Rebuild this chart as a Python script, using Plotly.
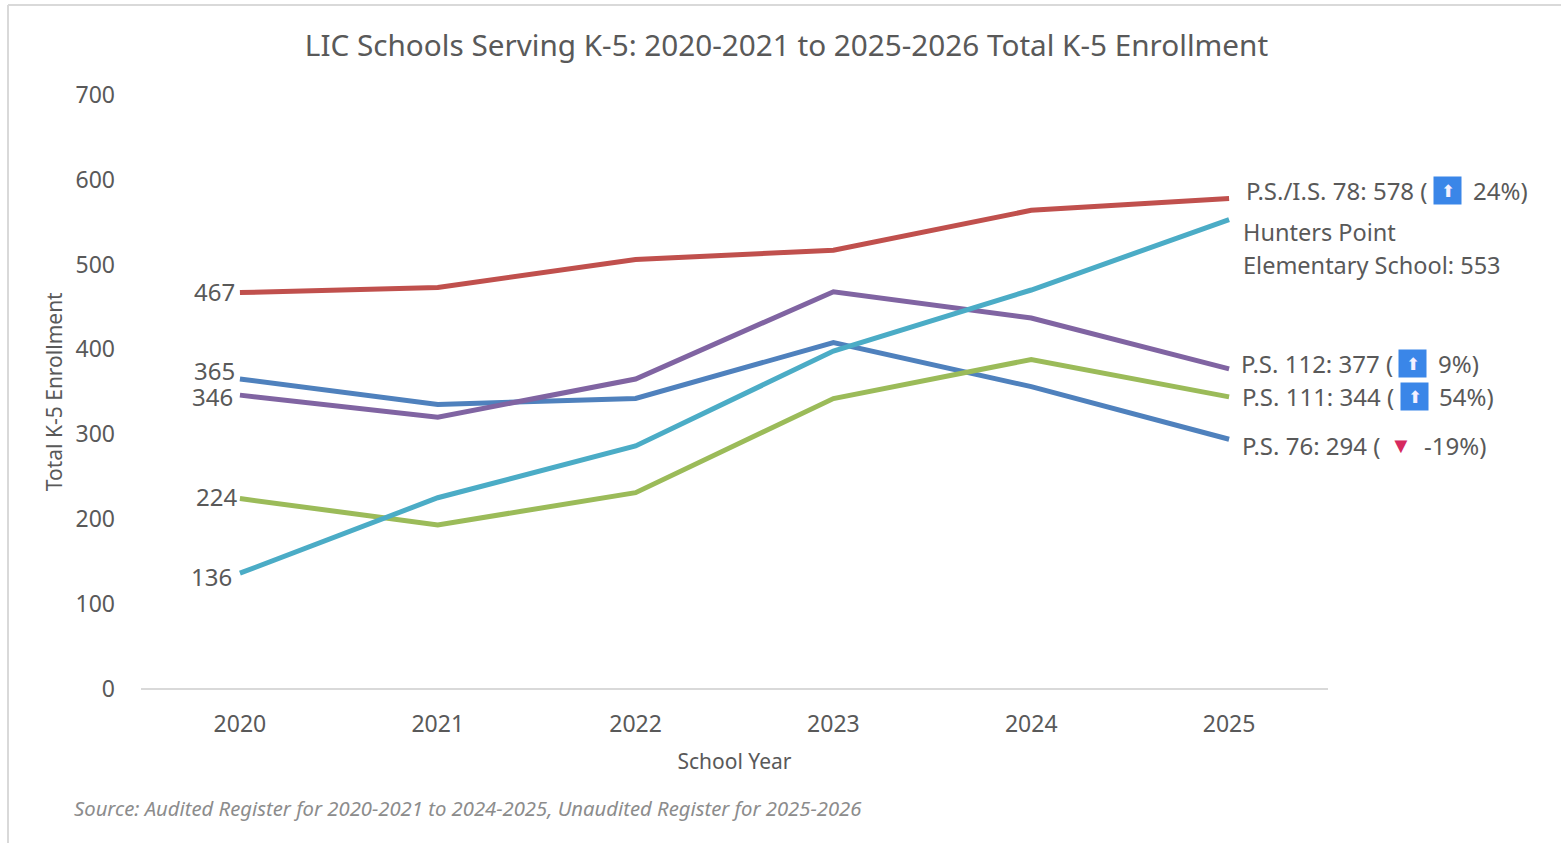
import plotly.graph_objects as go

# Enrollment by school year
years = ["2020", "2021", "2022", "2023", "2024", "2025"]
ps_is_78 = [467, 473, 506, 517, 564, 578]
ps_76 = [365, 335, 342, 408, 356, 294]
ps_112 = [346, 320, 365, 468, 437, 377]
ps_111 = [224, 193, 231, 342, 388, 344]
hunters_point = [136, 225, 286, 398, 470, 553]

FONT = "Noto Sans"
TEXT = "#595959"
W, H = 1561, 843
X0, X1, Y_BASE, Y_TOP = 141, 1328, 688.5, 95

fig = go.Figure()

series = [
    ("P.S. 76", ps_76, "#4f81bd"),
    ("P.S./I.S. 78", ps_is_78, "#c0504d"),
    ("P.S. 111", ps_111, "#9bbb59"),
    ("P.S. 112", ps_112, "#8064a2"),
    ("Hunters Point Elementary School", hunters_point, "#4bacc6"),
]
for name, values, color in series:
    fig.add_trace(go.Scatter(
        x=years, y=values, mode="lines", name=name,
        line=dict(color=color, width=5), showlegend=False,
    ))


def note(x_idx, value, text, xshift, yshift, anchor="left", size=24, color=TEXT, **kw):
    # Category axes place annotations by position index
    fig.add_annotation(
        x=x_idx, y=value, xref="x", yref="y", text=text, showarrow=False,
        xanchor=anchor, yanchor="middle", xshift=xshift, yshift=yshift,
        font=dict(family=FONT, size=size, color=color), **kw,
    )


# First-year values, right-aligned against the start of each line
note(0, ps_is_78[0], str(ps_is_78[0]), -3, 1, "right")
note(0, ps_76[0], str(ps_76[0]), -3, 9, "right")
note(0, ps_112[0], str(ps_112[0]), -5, -1, "right")
note(0, ps_111[0], str(ps_111[0]), -1, 2, "right")
note(0, hunters_point[0], str(hunters_point[0]), -6, -3, "right")

# Final-year labels with change indicators
end_labels = [
    ("P.S./I.S. 78", ps_is_78, "24%)", "up", 15, 8, 218, 242),
    ("P.S. 112", ps_112, "9%)", "up", 10, 5, 183, 207),
    ("P.S. 111", ps_111, "54%)", "up", 11, 0, 185, 208),
    ("P.S. 76", ps_76, "-19%)", "down", 11, -6, 172, 193),
]
for name, values, pct, direction, dx, dy, icon_dx, pct_dx in end_labels:
    note(5, values[5], f"{name}: {values[5]} (", dx, dy)
    if direction == "up":
        note(5, values[5], "⬆", icon_dx, dy, "center", size=17, color="#f4f0ff",
             bgcolor="#3a86e8", width=27, height=27, borderpad=0)
    else:
        note(5, values[5], "▼", icon_dx, dy + 1, "center", size=22, color="#d6295f")
    note(5, values[5], pct, pct_dx, dy)

note(5, hunters_point[5], "Hunters Point", 12, -12, size=23.5)
note(5, hunters_point[5], f"Elementary School: {hunters_point[5]}", 12, -45, size=23.5)

# Source line
fig.add_annotation(
    x=71.5 / W, y=1 - 808 / H, xref="paper", yref="paper", showarrow=False,
    xanchor="left", yanchor="middle", text="<i>Source: Audited Register for 2020-2021 to 2024-2025, Unaudited Register for 2025-2026</i>",
    font=dict(family=FONT, size=20.25, color="#8c8c8c"),
)

# Thin frame along the top and left edges
fig.add_shape(type="line", xref="paper", yref="paper", x0=8 / W, x1=8 / W, y0=0, y1=1 - 5 / H,
              line=dict(color="#d9d9d9", width=2))
fig.add_shape(type="line", xref="paper", yref="paper", x0=8 / W, x1=1, y0=1 - 5 / H, y1=1 - 5 / H,
              line=dict(color="#d9d9d9", width=2))

fig.update_layout(
    width=W, height=H, autosize=False,
    margin=dict(l=0, r=0, t=0, b=0),
    paper_bgcolor="white", plot_bgcolor="white",
    font=dict(family=FONT, color=TEXT),
    title=dict(
        text="LIC Schools Serving K-5: 2020-2021 to 2025-2026 Total K-5 Enrollment",
        x=786.5 / W, xanchor="center", y=1 - 45.5 / H, yanchor="middle",
        font=dict(family=FONT, size=29.7, color=TEXT),
    ),
    xaxis=dict(
        domain=[X0 / W, X1 / W], type="category", range=[-0.5, 5.5],
        showgrid=False, showline=False, zeroline=False,
        ticks="", ticklabelstandoff=19, tickfont=dict(family=FONT, size=23, color=TEXT),
        title=dict(text="School Year", standoff=16, font=dict(family=FONT, size=21, color=TEXT)),
        automargin=False,
    ),
    yaxis=dict(
        domain=[1 - Y_BASE / H, 1 - Y_TOP / H], range=[0, 700], dtick=100,
        showgrid=False, showline=False,
        zeroline=True, zerolinecolor="#d9d9d9", zerolinewidth=2,
        ticks="", ticklabelstandoff=25, tickfont=dict(family=FONT, size=23, color=TEXT),
        title=dict(text="Total K-5 Enrollment", standoff=7, font=dict(family=FONT, size=21, color=TEXT)),
        automargin=False,
    ),
)

fig.write_html("out.html")
